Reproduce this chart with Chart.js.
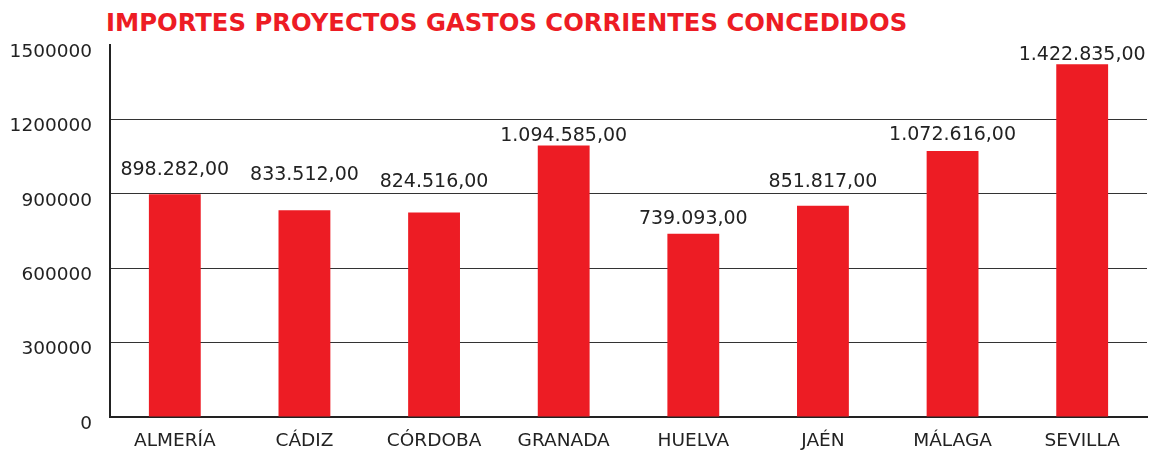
<!DOCTYPE html>
<html>
<head>
<meta charset="utf-8">
<script src="https://cdn.jsdelivr.net/npm/chart.js@4.4.1/dist/chart.umd.min.js"></script>
<style>
    html, body { margin: 0; padding: 0; background: #fff; }
    #contenedor { position: relative; width: 1153px; height: 453px; }
    #titulo {
        position: absolute; left: 106px; top: 8px; margin: 0;
        font: bold 24.3px "DejaVu Sans", Verdana, sans-serif; color: #ED1C24;
        white-space: nowrap;
    }
    canvas { position: absolute; left: 0; top: 0; }
</style>
</head>
<body>
<div id="contenedor">
    <h1 id="titulo">IMPORTES PROYECTOS GASTOS CORRIENTES CONCEDIDOS</h1>
    <canvas id="grafico" width="1153" height="453"></canvas>
</div>
<script>
const provincias = ['ALMERÍA', 'CÁDIZ', 'CÓRDOBA', 'GRANADA', 'HUELVA', 'JAÉN', 'MÁLAGA', 'SEVILLA'];
const importes = [898282, 833512, 824516, 1094585, 739093, 851817, 1072616, 1422835];
const ejeY = { min: 0, max: 1500000, paso: 300000 };

const ROJO = '#ED1C24';
const TEXTO = '#222222';
const FUENTE = '"DejaVu Sans", Verdana, sans-serif';

// formato 1.234.567,00
function formatearImporte(valor) {
    var entero = Math.floor(valor).toString();
    var partes = [];
    while (entero.length > 3) {
        partes.unshift(entero.slice(-3));
        entero = entero.slice(0, -3);
    }
    partes.unshift(entero);
    return partes.join('.') + ',00';
}

const etiquetasValor = {
    id: 'etiquetasValor',
    afterDatasetsDraw(chart, args, opciones) {
        const ctx = chart.ctx;
        const meta = chart.getDatasetMeta(0);
        const separacion = opciones.separacion || [];
        ctx.save();
        ctx.font = '19px ' + FUENTE;
        ctx.fillStyle = TEXTO;
        ctx.textAlign = 'center';
        ctx.textBaseline = 'alphabetic';
        meta.data.forEach((barra, i) => {
            const sep = separacion[i] != undefined ? separacion[i] : 5;
            ctx.fillText(formatearImporte(importes[i]), barra.x, barra.y - sep);
        });
        ctx.restore();
    }
};

new Chart(document.getElementById('grafico'), {
    type: 'bar',
    data: {
        labels: provincias,
        datasets: [{
            data: importes,
            backgroundColor: ROJO,
            borderWidth: 0,
            categoryPercentage: 1,
            barPercentage: 0.4
        }]
    },
    options: {
        responsive: false,
        animation: false,
        layout: {
            padding: { top: 45, right: 6, left: 0, bottom: 0 }
        },
        scales: {
            x: {
                grid: { display: false },
                border: { color: '#222', width: 2 },
                ticks: {
                    color: TEXTO,
                    font: { family: FUENTE, size: 18.5 },
                    padding: 5,
                    maxRotation: 0
                },
                afterFit: (escala) => { escala.height = 36; }
            },
            y: {
                min: ejeY.min,
                max: ejeY.max,
                grid: {
                    color: (c) => c.tick && c.tick.value == ejeY.max ? 'rgba(0,0,0,0)' : '#333',
                    lineWidth: 1,
                    drawTicks: false
                },
                border: { color: '#222', width: 2 },
                ticks: {
                    stepSize: ejeY.paso,
                    color: TEXTO,
                    font: { family: FUENTE, size: 18.5 },
                    padding: 18,
                    labelOffset: 7,
                    callback: (valor) => String(valor)
                },
                afterFit: (escala) => { escala.width = 110; }
            }
        },
        plugins: {
            legend: { display: false },
            tooltip: { enabled: false },
            etiquetasValor: { separacion: [19, 30, 26, 5, 10, 19, 11, 4] }
        }
    },
    plugins: [etiquetasValor]
});
</script>
</body>
</html>
